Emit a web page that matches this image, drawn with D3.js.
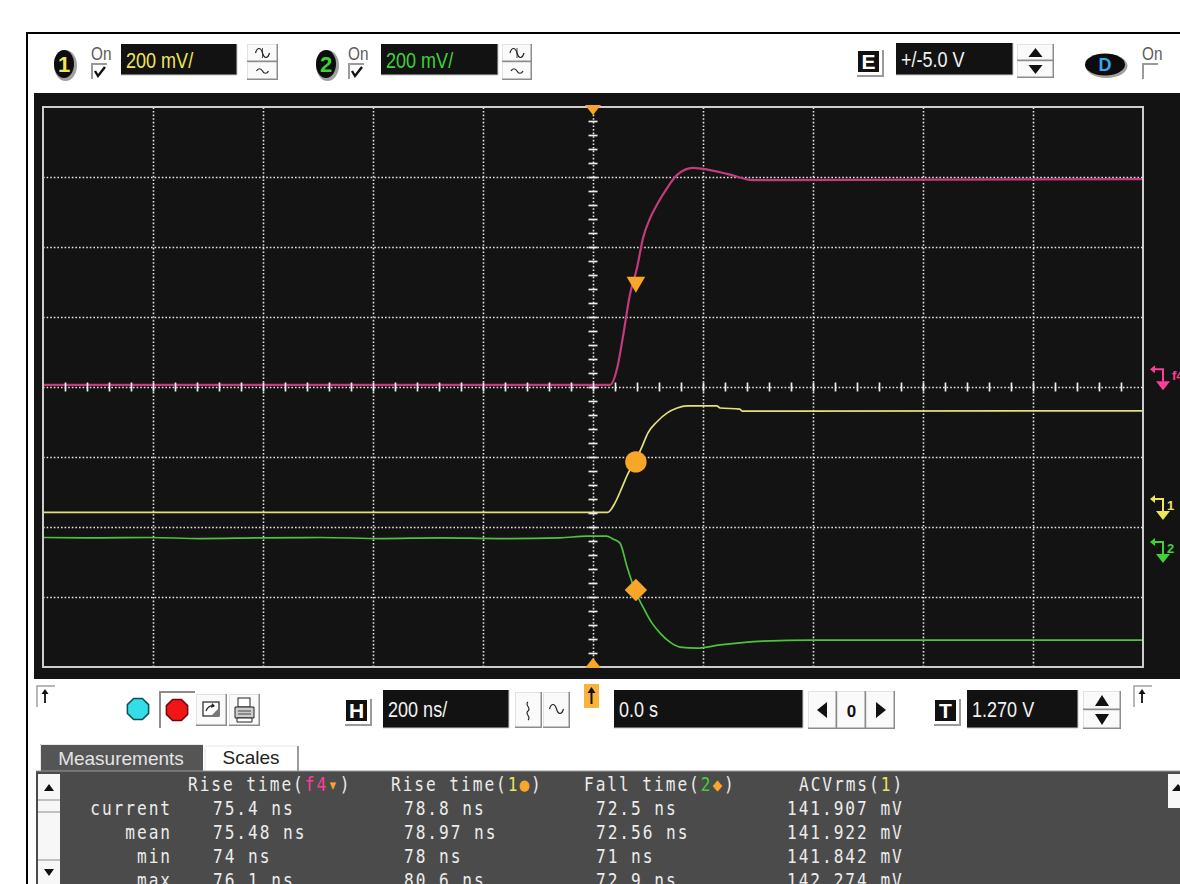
<!DOCTYPE html>
<html>
<head>
<meta charset="utf-8">
<script src="https://cdn.jsdelivr.net/npm/d3@7"></script>
<style>
  html, body { margin: 0; padding: 0; background: #fff; }
  svg { display: block; }
</style>
</head>
<body>
<svg id="scope" width="1180" height="884"></svg>
<script>
// ---- display settings -------------------------------------------------
const timeDomain = [-1000, 1000];      // ns, 200 ns/div, 10 divisions
const voltDomain = [-800, 800];        // mV, 200 mV/div, 8 divisions
const hDivisions = 10;
const vDivisions = 8;
const minorPerDiv = 5;

// ---- traces (time in ns, level in mV on screen) -----------------------
// f4 math trace (magenta)
const f4Time = [-1000, 31, 44, 55, 67, 80, 91, 104, 116, 135, 153, 182, 200, 244, 291, 340, 1000];
const f4Volt = [6, 6, 54, 149, 263, 340, 426, 483, 520, 569, 606, 626, 623, 609, 591, 591, 594];

// channel 1 (yellow)
const ch1Time = [-1000, 27, 40, 53, 64, 76, 89, 100, 116, 135, 153, 171, 225, 231, 267, 271, 1000];
const ch1Volt = [-358, -358, -331, -286, -246, -214, -171, -131, -100, -74, -60, -54, -54, -60, -63, -69, -68];

// channel 2 (green)
const ch2Time = [-1000, -896, -805, -715, -605, -495, -385, -278, -169, -60, -11, 25, 36, 49, 62, 76, 91, 107, 122, 140, 158, 189, 231, 267, 309, 400, 1000];
const ch2Volt = [-430, -431, -430, -433, -431, -430, -433, -431, -433, -431, -426, -426, -434, -446, -514, -580, -629, -674, -703, -729, -743, -746, -737, -731, -726, -723, -723];

// measurement markers: f4 rise (triangle), ch1 rise (circle), ch2 fall (diamond)
const markerTime = [78, 78, 78];
const markerVolt = [300, -214, -580];

// channel reference (ground) markers on the right edge
const refLabels = ["f4", "1", "2"];
const refVolt = [-9, -380, -503];

// ---- control panel texts -----------------------------------------------
const ch1Scale = "200 mV/";
const ch2Scale = "200 mV/";
const extRange = "+/-5.0 V";
const timeScale = "200 ns/";
const delayText = "0.0 s";
const trigLevel = "1.270 V";

// ---- measurement table -------------------------------------------------
const measRows = ["current", "mean", "min", "max"];
const riseF4 = ["75.4 ns", "75.48 ns", "74 ns", "76.1 ns"];
const rise1 = ["78.8 ns", "78.97 ns", "78 ns", "80.6 ns"];
const fall2 = ["72.5 ns", "72.56 ns", "71 ns", "72.9 ns"];
const acvrms1 = ["141.907 mV", "141.922 mV", "141.842 mV", "142.274 mV"];

// ---- colours -------------------------------------------------------------
const C = {
  f4: "#c23b7c", ch1: "#e4e07a", ch2: "#4fc23d", marker: "#f8a62a",
  grid: "#e4e4e4", border: "#cdcdcd", screen: "#131313",
  f4Text: "#ff3d9a", ch1Text: "#ece65a", ch2Text: "#3fd03a"
};

const svg = d3.select("#scope");
const SANS = '"Liberation Sans", Arial, sans-serif';
const MONO = '"DejaVu Sans Mono", "Liberation Mono", monospace';

// ---- window frame and screen --------------------------------------------
svg.append("rect").attr("width", 1180).attr("height", 884).attr("fill", "#ffffff");
svg.append("path").attr("d", "M27,884V33H1180").attr("fill", "none").attr("stroke", "#000").attr("stroke-width", 2);
svg.append("rect").attr("x", 34).attr("y", 93).attr("width", 1146).attr("height", 586).attr("fill", C.screen);

const plot = { left: 43, right: 1143, top: 107, bottom: 667 };
const x = d3.scaleLinear().domain(timeDomain).range([plot.left, plot.right]);
const y = d3.scaleLinear().domain(voltDomain).range([plot.bottom, plot.top]);

const hStep = (timeDomain[1] - timeDomain[0]) / hDivisions;
const vStep = (voltDomain[1] - voltDomain[0]) / vDivisions;
const gridT = d3.range(timeDomain[0] + hStep, timeDomain[1], hStep);
const gridV = d3.range(voltDomain[0] + vStep, voltDomain[1], vStep);

// graticule (dotted)
function dotted(g) {
  g.select(".domain").remove();
  g.selectAll("line").attr("stroke", C.grid).attr("stroke-width", 1.6).attr("stroke-dasharray", "1.6,2");
}
svg.append("g").attr("transform", `translate(0,${plot.bottom})`)
  .call(d3.axisBottom(x).tickValues(gridT).tickSize(-(plot.bottom - plot.top)).tickFormat(""))
  .call(dotted);
svg.append("g").attr("transform", `translate(${plot.left},0)`)
  .call(d3.axisLeft(y).tickValues(gridV).tickSize(-(plot.right - plot.left)).tickFormat(""))
  .call(dotted);

// traces
const clip = svg.append("clipPath").attr("id", "screenClip");
clip.append("rect").attr("x", plot.left).attr("y", plot.top)
  .attr("width", plot.right - plot.left).attr("height", plot.bottom - plot.top);

const line = d3.line().x(d => x(d[0])).y(d => y(d[1])).curve(d3.curveMonotoneX);
const traces = svg.append("g").attr("clip-path", "url(#screenClip)");
[[f4Time, f4Volt, C.f4, 2.2], [ch1Time, ch1Volt, C.ch1, 1.7], [ch2Time, ch2Volt, C.ch2, 1.7]]
  .forEach(([t, v, col, w]) => {
    traces.append("path").datum(d3.zip(t, v)).attr("d", line)
      .attr("fill", "none").attr("stroke", col).attr("stroke-width", w)
      .attr("stroke-linejoin", "round");
  });

// centre axes with minor ticks
const minorT = d3.range(timeDomain[0] + hStep / minorPerDiv, timeDomain[1], hStep / minorPerDiv);
const minorV = d3.range(voltDomain[0] + vStep / minorPerDiv, voltDomain[1], vStep / minorPerDiv);
function tickStyle(g) {
  g.select(".domain").remove();
  g.selectAll("line").attr("stroke", "#ececec").attr("stroke-width", 1.7);
}
svg.append("g").attr("transform", `translate(0,${y(0) - 4.5})`)
  .call(d3.axisBottom(x).tickValues(minorT).tickSize(9).tickFormat(""))
  .call(tickStyle);
svg.append("g").attr("transform", `translate(${x(0) - 4.5},0)`)
  .call(d3.axisRight(y).tickValues(minorV).tickSize(9).tickFormat(""))
  .call(tickStyle);

// screen border
svg.append("rect").attr("x", plot.left).attr("y", plot.top)
  .attr("width", plot.right - plot.left).attr("height", plot.bottom - plot.top)
  .attr("fill", "none").attr("stroke", C.border).attr("stroke-width", 2);

// trigger position markers (top and bottom)
const tx = x(0);
svg.append("path").attr("d", `M${tx - 8},${plot.top - 2}H${tx + 8}L${tx},${plot.top + 8}Z`).attr("fill", C.marker);
svg.append("path").attr("d", `M${tx - 8},${plot.bottom + 1}H${tx + 8}L${tx},${plot.bottom - 9}Z`).attr("fill", C.marker);

// measurement markers on the traces
const markerShapes = [
  { type: d3.symbolTriangle, size: 150, rot: 180 },
  { type: d3.symbolCircle, size: 360, rot: 0 },
  { type: d3.symbolSquare, size: 250, rot: 45 }
];
markerShapes.forEach((m, i) => {
  svg.append("path")
    .attr("d", d3.symbol().type(m.type).size(m.size)())
    .attr("transform", `translate(${x(markerTime[i])},${y(markerVolt[i])}) rotate(${m.rot})`)
    .attr("fill", C.marker);
});

// channel reference markers on the right edge
const refColors = [C.f4Text, C.ch1Text, C.ch2Text];
const refLabelDx = [9, 4, 4];
refVolt.forEach((v, i) => {
  const xt = 1163, yt = y(v), col = refColors[i];
  const g = svg.append("g");
  g.append("path").attr("d", `M${xt - 7},${yt - 9}H${xt + 7}L${xt},${yt}Z`).attr("fill", col);
  g.append("path").attr("d", `M${xt},${yt - 9}V${yt - 21}H${xt - 9}`)
    .attr("fill", "none").attr("stroke", col).attr("stroke-width", 2);
  g.append("path").attr("d", `M${xt - 13},${yt - 21}L${xt - 8},${yt - 25}V${yt - 17}Z`).attr("fill", col);
  g.append("text").attr("x", xt + refLabelDx[i]).attr("y", yt - 10).attr("font-family", SANS)
    .attr("font-size", 13).attr("font-weight", "bold").attr("fill", col).text(refLabels[i]);
});

// ---- widgets ---------------------------------------------------------------
function narrowText(g, x0, y0, str, size, color, anchor = "start", weight = "normal", sx = 0.82) {
  return g.append("text").attr("transform", `translate(${x0},${y0}) scale(${sx},1)`)
    .attr("font-family", SANS).attr("font-size", size).attr("fill", color)
    .attr("text-anchor", anchor).attr("font-weight", weight).text(str);
}
function raisedBox(g, x0, y0, w, h) {
  g.append("rect").attr("x", x0).attr("y", y0).attr("width", w).attr("height", h).attr("fill", "#fafafa");
  g.append("path").attr("d", `M${x0 + 0.5},${y0 + h}V${y0 + 0.5}H${x0 + w}`)
    .attr("fill", "none").attr("stroke", "#e2e2e2").attr("stroke-width", 1);
  g.append("path").attr("d", `M${x0},${y0 + h - 0.75}H${x0 + w - 0.75}V${y0}`)
    .attr("fill", "none").attr("stroke", "#8c8c8c").attr("stroke-width", 1.5);
}
function blackBox(g, x0, y0, w, h, str, color) {
  g.append("rect").attr("x", x0).attr("y", y0).attr("width", w).attr("height", h)
    .attr("fill", "#121212");
  g.append("path").attr("d", `M${x0 + w},${y0}V${y0 + h}H${x0}`)
    .attr("fill", "none").attr("stroke", "#c8c8c8").attr("stroke-width", 1);
  narrowText(g, x0 + 5, y0 + h / 2 + 8, str, 22, color);
}
function sineGlyph(g, cx, cy, amp, half) {
  g.append("path")
    .attr("d", `M${cx - 2 * half},${cy} C${cx - 1.5 * half},${cy - 2 * amp} ${cx - 0.5 * half},${cy - 2 * amp} ${cx},${cy} S${cx + 1.5 * half},${cy + 2 * amp} ${cx + 2 * half},${cy}`)
    .attr("fill", "none").attr("stroke", "#222").attr("stroke-width", 1.2);
}
function waveButtons(g, x0, y0, w, h) {
  raisedBox(g, x0, y0, w, h / 2);
  raisedBox(g, x0, y0 + h / 2, w, h / 2);
  sineGlyph(g, x0 + w / 2, y0 + h / 4, 3, 3.5);
  g.append("path").attr("d", `M${x0 + w / 2},${y0 + h / 4 - 5}V${y0 + h / 4 + 5}`).attr("stroke", "#222").attr("stroke-width", 0.8);
  sineGlyph(g, x0 + w / 2, y0 + 3 * h / 4, 1.5, 3);
}
function spinner(g, x0, y0, w, h) {
  raisedBox(g, x0, y0, w, h / 2);
  raisedBox(g, x0, y0 + h / 2, w, h / 2);
  const cx = x0 + w / 2;
  g.append("path").attr("d", `M${cx - 7},${y0 + h / 2 - 4}H${cx + 7}L${cx},${y0 + 4}Z`).attr("fill", "#111");
  g.append("path").attr("d", `M${cx - 7},${y0 + h / 2 + 4}H${cx + 7}L${cx},${y0 + h - 4}Z`).attr("fill", "#111");
}
function letterButton(g, x0, y0, s, letter) {
  g.append("rect").attr("x", x0 + 2).attr("y", y0 + 2).attr("width", s).attr("height", s).attr("fill", "#9a9a9a");
  g.append("rect").attr("x", x0).attr("y", y0).attr("width", s).attr("height", s).attr("fill", "#ffffff");
  g.append("rect").attr("x", x0 + 3).attr("y", y0 + 3).attr("width", s - 6).attr("height", s - 6).attr("fill", "#111");
  g.append("text").attr("x", x0 + s / 2).attr("y", y0 + s / 2 + 7.5).attr("text-anchor", "middle")
    .attr("font-family", SANS).attr("font-weight", "bold").attr("font-size", 21).attr("fill", "#fff").text(letter);
}
function badge(g, cx, cy, rx, ry, str, color) {
  g.append("ellipse").attr("cx", cx + 1.5).attr("cy", cy + 1.5).attr("rx", rx + 1.5).attr("ry", ry + 1.5).attr("fill", "#a0a0a0");
  g.append("ellipse").attr("cx", cx).attr("cy", cy).attr("rx", rx).attr("ry", ry).attr("fill", "#0c0c0c");
  g.append("text").attr("x", cx).attr("y", cy + 8).attr("text-anchor", "middle")
    .attr("font-family", SANS).attr("font-weight", "bold").attr("font-size", 22).attr("fill", color).text(str);
}
function onCheck(g, x0, y0, checked) {
  g.append("text").attr("transform", `translate(${x0},${y0 + 14}) scale(0.85,1)`)
    .attr("font-family", SANS).attr("font-size", 18).attr("fill", "#5a5a5a").text("On");
  g.append("path").attr("d", `M${x0 + 1},${y0 + 33}V${y0 + 18}H${x0 + 16}`)
    .attr("fill", "none").attr("stroke", "#9a9a9a").attr("stroke-width", 2);
  if (checked) {
    g.append("path").attr("d", `M${x0 + 4},${y0 + 25}L${x0 + 7},${y0 + 30}L${x0 + 14},${y0 + 21}`)
      .attr("fill", "none").attr("stroke", "#111").attr("stroke-width", 2.4);
  }
}
function octagon(g, cx, cy, r, fill, stroke) {
  const pts = d3.range(8).map(k => {
    const a = Math.PI / 8 + k * Math.PI / 4;
    return [cx + r * Math.cos(a), cy + r * Math.sin(a)];
  });
  g.append("polygon").attr("points", pts.map(p => p.join(",")).join(" "))
    .attr("fill", fill).attr("stroke", stroke).attr("stroke-width", 1.5);
}
function cornerArrow(g, x0, y0, col = "#111") {
  g.append("path").attr("d", `M${x0},${y0 + 21}V${y0}H${x0 + 18}`)
    .attr("fill", "none").attr("stroke", "#a0a0a0").attr("stroke-width", 1.5);
  g.append("path").attr("d", `M${x0 + 8},${y0 + 17}V${y0 + 6}`).attr("stroke", col).attr("stroke-width", 1.8);
  g.append("path").attr("d", `M${x0 + 4.5},${y0 + 8}L${x0 + 8},${y0 + 3}L${x0 + 11.5},${y0 + 8}Z`).attr("fill", col);
}

// ---- top control bar ------------------------------------------------------
const topBar = svg.append("g");
badge(topBar, 64, 64, 10, 14, "1", C.ch1Text);
onCheck(topBar, 91, 46, true);
blackBox(topBar, 121, 44, 116, 31, ch1Scale, C.ch1Text);
waveButtons(topBar, 247, 44, 31, 36);

badge(topBar, 326, 64, 10, 14, "2", C.ch2Text);
onCheck(topBar, 348, 46, true);
blackBox(topBar, 381, 44, 117, 31, ch2Scale, C.ch2Text);
waveButtons(topBar, 502, 44, 30, 36);

letterButton(topBar, 855, 48, 27, "E");
blackBox(topBar, 896, 43, 117, 32, extRange, "#f2f2f2");
spinner(topBar, 1017, 44, 37, 34);

// external probe badge (D)
topBar.append("ellipse").attr("cx", 1106.5).attr("cy", 66).attr("rx", 21).attr("ry", 12).attr("fill", "#a0a0a0");
topBar.append("ellipse").attr("cx", 1105).attr("cy", 64.5).attr("rx", 20).attr("ry", 11).attr("fill", "#0c0c0c");
topBar.append("text").attr("x", 1105).attr("y", 71).attr("text-anchor", "middle").attr("font-family", SANS)
  .attr("font-weight", "bold").attr("font-size", 18).attr("fill", "#3aa6ec").text("D");
onCheck(topBar, 1142, 46, false);

// ---- bottom control bar -----------------------------------------------------
const bot = svg.append("g");
cornerArrow(bot, 37, 686);
octagon(bot, 138, 709, 11.5, "#35dde6", "#124d52");
bot.append("path").attr("d", "M160,728V692H195").attr("fill", "none").attr("stroke", "#8c8c8c").attr("stroke-width", 2);
octagon(bot, 177, 710, 11.5, "#f01616", "#6b0a0a");

// snapshot button
raisedBox(bot, 196, 694, 31, 32);
bot.append("rect").attr("x", 203).attr("y", 702).attr("width", 16).attr("height", 14).attr("fill", "#fff").attr("stroke", "#222").attr("stroke-width", 1.2);
bot.append("path").attr("d", "M211,716L219,708V716Z").attr("fill", "#777");
bot.append("path").attr("d", "M206,711Q208,705 214,706").attr("fill", "none").attr("stroke", "#222").attr("stroke-width", 1.3);
bot.append("path").attr("d", "M212,703L215,706L211,708Z").attr("fill", "#222");

// print button
raisedBox(bot, 229, 694, 31, 32);
bot.append("rect").attr("x", 238).attr("y", 698).attr("width", 12).attr("height", 9).attr("fill", "#fff").attr("stroke", "#222");
bot.append("path").attr("d", "M235,707H254V718H235Z").attr("fill", "#ccc").attr("stroke", "#222");
bot.append("path").attr("d", "M237,718H252V722H237Z").attr("fill", "#fff").attr("stroke", "#222");
bot.append("path").attr("d", "M238,711H251M238,714H251").attr("stroke", "#444");

letterButton(bot, 343, 697, 27, "H");
blackBox(bot, 383, 690, 126, 38, timeScale, "#f2f2f2");

raisedBox(bot, 515, 692, 27, 36);
raisedBox(bot, 543, 692, 27, 36);
bot.append("path").attr("d", "M528,702C524,705 532,708 528,711S532,717 528,720").attr("fill", "none").attr("stroke", "#222").attr("stroke-width", 1.1);
sineGlyph(bot, 556.5, 709, 3, 3.5);

bot.append("rect").attr("x", 584).attr("y", 684).attr("width", 15).attr("height", 24).attr("fill", "#f7b33b");
bot.append("path").attr("d", "M591.5,704V691").attr("stroke", "#111").attr("stroke-width", 2);
bot.append("path").attr("d", "M587.5,693L591.5,687L595.5,693Z").attr("fill", "#111");

blackBox(bot, 614, 690, 189, 38, delayText, "#f2f2f2");

raisedBox(bot, 808, 691, 29, 38);
raisedBox(bot, 837, 691, 29, 38);
raisedBox(bot, 866, 691, 29, 38);
bot.append("path").attr("d", "M817,710L827,702V718Z").attr("fill", "#111");
bot.append("text").attr("x", 851.5).attr("y", 717).attr("text-anchor", "middle").attr("font-family", SANS)
  .attr("font-weight", "bold").attr("font-size", 17).attr("fill", "#111").text("0");
bot.append("path").attr("d", "M886,710L876,702V718Z").attr("fill", "#111");

letterButton(bot, 932, 697, 27, "T");
blackBox(bot, 967, 690, 111, 38, trigLevel, "#f2f2f2");
spinner(bot, 1083, 691, 38, 38);
cornerArrow(bot, 1134, 686);

// ---- measurement tabs and table ---------------------------------------------
const tab = svg.append("g");
tab.append("rect").attr("x", 40).attr("y", 744).attr("width", 163).attr("height", 28).attr("fill", "#555555");
tab.append("path").attr("d", "M40.5,772V744.5H203").attr("fill", "none").attr("stroke", "#e8e8e8");
tab.append("text").attr("x", 121).attr("y", 765).attr("text-anchor", "middle").attr("font-family", SANS)
  .attr("font-size", 19).attr("fill", "#e4e4e4").text("Measurements");
tab.append("path").attr("d", "M205,772V746H297").attr("fill", "none").attr("stroke", "#e6e6e6");
tab.append("path").attr("d", "M298,746V772").attr("fill", "none").attr("stroke", "#7a7a7a").attr("stroke-width", 1.5);
tab.append("text").attr("x", 251).attr("y", 764).attr("text-anchor", "middle").attr("font-family", SANS)
  .attr("font-size", 19).attr("fill", "#222").text("Scales");

const panelTop = 771;
tab.append("rect").attr("x", 36).attr("y", panelTop).attr("width", 1144).attr("height", 884 - panelTop).attr("fill", "#4b4b4b");
tab.append("path").attr("d", `M36,${panelTop}H1180`).attr("stroke", "#9a9a9a").attr("stroke-width", 1);

// left scroll bar
tab.append("rect").attr("x", 38).attr("y", panelTop + 3).attr("width", 22).attr("height", 110).attr("fill", "#f7f7f7");
tab.append("path").attr("d", `M38,${panelTop + 29}H60M38,${panelTop + 41}H60M38,${panelTop + 89}H60`).attr("stroke", "#8a8a8a").attr("stroke-width", 1.2);
tab.append("path").attr("d", `M44,${panelTop + 20}H54L49,${panelTop + 13}Z`).attr("fill", "#111");
tab.append("path").attr("d", `M44,${panelTop + 98}H54L49,${panelTop + 105}Z`).attr("fill", "#111");
// right scroll bar (partly visible)
tab.append("rect").attr("x", 1168).attr("y", panelTop + 3).attr("width", 14).attr("height", 34).attr("fill", "#f7f7f7");
tab.append("path").attr("d", `M1172,${panelTop + 20}L1178,${panelTop + 13}L1184,${panelTop + 20}Z`).attr("fill", "#111");

// table text: condensed monospace
const SX = 0.85, LS = 2.3;
function mText(x0, yb, parts, anchor = "start") {
  const t = tab.append("text").attr("transform", `translate(${x0},${yb}) scale(${SX},1)`)
    .attr("font-family", MONO).attr("font-size", 19).attr("letter-spacing", LS)
    .attr("text-anchor", anchor).attr("fill", "#ececec");
  parts.forEach(([s, col]) => t.append("tspan").attr("fill", col || "#ececec").text(s));
}
const WT = "#ececec";
const headerY = 791, rowStep = 24;
mText(188, headerY, [["Rise time(", WT], ["f4", C.f4Text], ["\u25BE", C.marker], [")", WT]]);
mText(391, headerY, [["Rise time(", WT], ["1", C.ch1Text], ["\u25CF", C.marker], [")", WT]]);
mText(584, headerY, [["Fall time(", WT], ["2", C.ch2Text], ["\u25C6", C.marker], [")", WT]]);
mText(799, headerY, [["ACVrms(", WT], ["1", C.ch1Text], [")", WT]]);

const colX = [213, 404, 596, 787];
const columns = [riseF4, rise1, fall2, acvrms1];
measRows.forEach((r, i) => {
  const yb = headerY + rowStep * (i + 1);
  mText(172, yb, [[r, WT]], "end");
  columns.forEach((col, j) => mText(colX[j], yb, [[col[i], WT]]));
});
</script>
</body>
</html>
